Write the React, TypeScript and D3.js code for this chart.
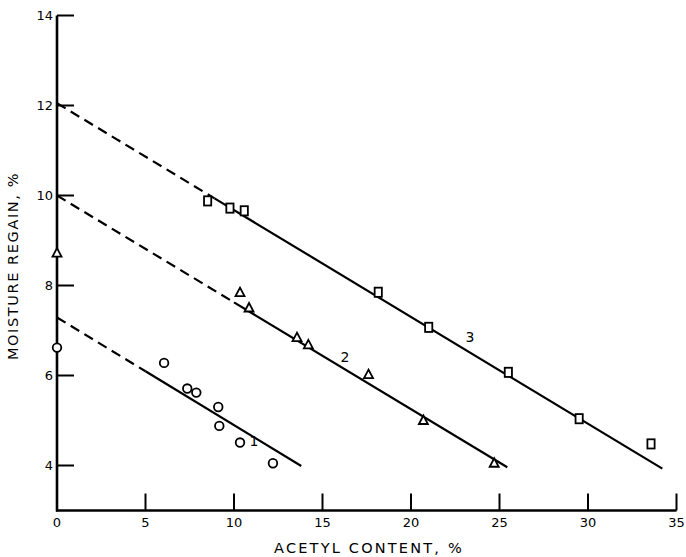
import React from "react";
import * as d3 from "d3";

// values (x = acetyl content %, y = moisture regain %)
const circleX = [0, 6.05, 7.36, 7.87, 9.11, 9.17, 10.34, 12.2];
const circleY = [6.62, 6.28, 5.71, 5.62, 5.3, 4.88, 4.51, 4.05];

const triangleX = [0, 10.34, 10.85, 13.56, 14.2, 17.6, 20.7, 24.7];
const triangleY = [8.72, 7.84, 7.5, 6.84, 6.68, 6.02, 5.0, 4.05];

const squareX = [8.51, 9.77, 10.58, 18.15, 21.0, 25.5, 29.5, 33.56];
const squareY = [9.88, 9.72, 9.66, 7.85, 7.07, 6.07, 5.04, 4.48];

// fitted lines: dashed from x=0 up to dashEnd, solid after that
const lineNames = ["1", "2", "3"];
const lineStartY = [7.29, 10.0, 12.05];
const lineEndX = [13.8, 25.44, 34.2];
const lineEndY = [3.99, 3.96, 3.93];
const dashEndX = [5.0, 10.0, 8.9];
const labelX = [11.13, 16.27, 23.33];
const labelY = [4.54, 6.42, 6.85];

const xTicks = [0, 5, 10, 15, 20, 25, 30, 35];
const yTicks = [4, 6, 8, 10, 12, 14];

const W = 686;
const H = 557;
const FONT = "'DejaVu Sans', sans-serif";

const x = d3.scaleLinear().domain([0, 35]).range([57, 676.5]);
const y = d3.scaleLinear().domain([3, 14]).range([510.5, 15.5]);

const lineGen = d3
  .line<[number, number]>()
  .x((d) => x(d[0]))
  .y((d) => y(d[1]));

export default function App() {
  const fitLines = lineNames.map((name, i) => {
    const slope = (lineEndY[i] - lineStartY[i]) / lineEndX[i];
    const midY = lineStartY[i] + slope * dashEndX[i];
    return {
      name,
      dashed: lineGen([
        [0, lineStartY[i]],
        [dashEndX[i], midY],
      ]),
      solid: lineGen([
        [dashEndX[i], midY],
        [lineEndX[i], lineEndY[i]],
      ]),
    };
  });

  const triPath = (cx: number, cy: number) =>
    `M${cx},${cy - 5}L${cx + 4.5},${cy + 3.5}L${cx - 4.5},${cy + 3.5}Z`;

  return (
    <div>
      <style>{`body{margin:0}`}</style>
      <svg width={W} height={H} style={{ display: "block", background: "#fff" }}>
        {/* axes */}
        <g stroke="#000" strokeWidth={2.6} fill="none">
          <line x1={x(0)} x2={x(0)} y1={y(3) + 1} y2={y(14)} />
          <line x1={x(0) - 1} x2={x(35)} y1={y(3)} y2={y(3)} />
          {yTicks.map((t) => (
            <line key={`yt${t}`} x1={x(0)} x2={x(0) + 17} y1={y(t)} y2={y(t)} strokeWidth={2} />
          ))}
          {xTicks
            .filter((t) => t > 0)
            .map((t) => (
              <line key={`xt${t}`} x1={x(t)} x2={x(t)} y1={y(3)} y2={y(3) - 17} strokeWidth={2} />
            ))}
        </g>

        <g fontFamily={FONT} fontSize={13} fill="#000">
          {yTicks.map((t) => (
            <text key={`yl${t}`} x={x(0) - 4} y={y(t) + 4.5} textAnchor="end">
              {t}
            </text>
          ))}
          {xTicks.map((t) => (
            <text key={`xl${t}`} x={x(t)} y={526.5} textAnchor="middle">
              {t}
            </text>
          ))}
        </g>

        <text
          x={369}
          y={553}
          textAnchor="middle"
          fontFamily={FONT}
          fontSize={14.5}
          letterSpacing={2.2}
        >
          ACETYL CONTENT, %
        </text>
        <text
          transform={`translate(18,266) rotate(-90)`}
          textAnchor="middle"
          fontFamily={FONT}
          fontSize={14.5}
          letterSpacing={1.6}
        >
          MOISTURE REGAIN, %
        </text>

        {/* fitted lines */}
        <g stroke="#000" strokeWidth={2.2} fill="none">
          {fitLines.map((l) => (
            <g key={l.name}>
              <path d={l.dashed ?? ""} strokeDasharray="10,6" />
              <path d={l.solid ?? ""} />
            </g>
          ))}
        </g>
        <g fontFamily={FONT} fontSize={14} textAnchor="middle">
          {lineNames.map((n, i) => (
            <text key={`lab${n}`} x={x(labelX[i])} y={y(labelY[i]) + 5}>
              {n}
            </text>
          ))}
        </g>

        {/* points */}
        <g stroke="#000" strokeWidth={1.8} fill="#fff">
          {circleX.map((cx, i) => (
            <circle key={`c${i}`} cx={x(cx)} cy={y(circleY[i])} r={4.3} />
          ))}
          {triangleX.map((tx, i) => (
            <path key={`t${i}`} d={triPath(x(tx), y(triangleY[i]))} />
          ))}
          {squareX.map((sx, i) => (
            <rect key={`s${i}`} x={x(sx) - 3.6} y={y(squareY[i]) - 4.6} width={7.2} height={9.2} />
          ))}
        </g>
      </svg>
    </div>
  );
}
